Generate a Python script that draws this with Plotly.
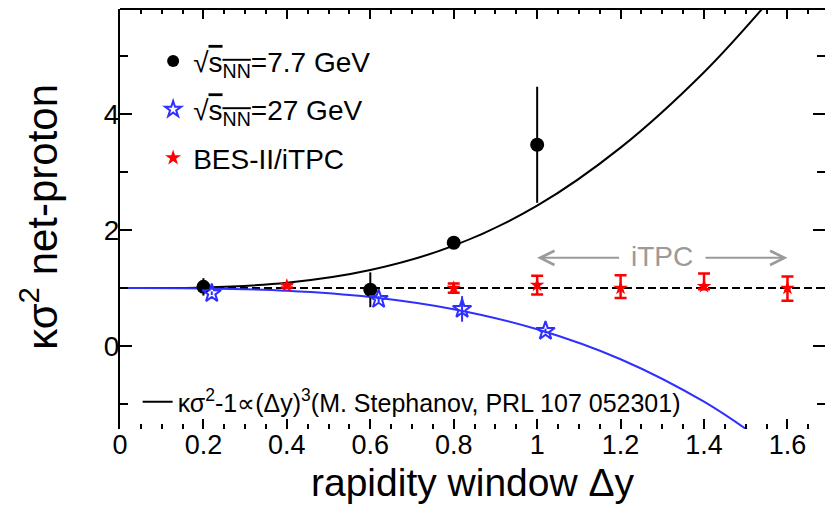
import plotly.graph_objects as go

# ---- data ----
dy_77 = [0.2, 0.6, 0.8, 1.0]
k_77 = [1.02, 0.97, 1.78, 3.47]
e_77 = [0.15, 0.30, 0.06, 1.0]

dy_27 = [0.22, 0.62, 0.82, 1.02]
k_27 = [0.91, 0.81, 0.64, 0.26]
e_27 = [0.03, 0.05, 0.22, 0.04]

dy_bes = [0.4, 0.8, 1.0, 1.2, 1.4, 1.6]
k_bes = [1.04, 1.0, 1.05, 1.0, 1.03, 1.0]
ep_bes = [0.03, 0.08, 0.16, 0.22, 0.22, 0.2]
em_bes = [0.03, 0.08, 0.16, 0.17, 0.05, 0.22]

# model curves
curve_x = [0.0, 0.2, 0.4, 0.6, 0.8, 1.0, 1.2, 1.4, 1.55]
curve_77 = [1.0, 1.01, 1.09, 1.31, 1.73, 2.42, 3.42, 4.72, 5.9]
curve_27 = [1.0, 0.994, 0.955, 0.847, 0.636, 0.29, -0.227, -0.96, -1.68]

x_ticks = [0, 0.2, 0.4, 0.6, 0.8, 1, 1.2, 1.4, 1.6]
x_ticktext = ["0", "0.2", "0.4", "0.6", "0.8", "1", "1.2", "1.4", "1.6"]
y_ticks = [0, 2, 4]

x_title = "rapidity window Δy"
y_title = "κσ<sup>2</sup> net-proton"

FONT = "Liberation Sans, Arial, Helvetica, sans-serif"
BLUE = "#2f2fff"
RED = "#ff0000"
GRAY = "#9a9a9a"

sqrt_s = "√<span style='text-decoration:overline'>s<sub>NN</sub></span>"

fig = go.Figure()

# reference line
fig.add_hline(y=1, line=dict(color="black", width=2, dash="8px,4px"), layer="below")

fig.add_trace(go.Scatter(x=curve_x, y=curve_77, mode="lines", line=dict(color="black", width=2, shape="spline"),
                         name="κσ<sup>2</sup>-1∝(Δy)<sup>3</sup>(M. Stephanov, PRL 107 052301)",
                         legend="legend2"))
fig.add_trace(go.Scatter(x=curve_x, y=curve_27, mode="lines", line=dict(color=BLUE, width=2, shape="spline"),
                         showlegend=False))

fig.add_trace(go.Scatter(x=dy_77, y=k_77, mode="markers", name=sqrt_s + "=7.7 GeV", legendgroup="a",
                         marker=dict(symbol="circle", size=14, color="black"),
                         error_y=dict(type="data", array=e_77, color="black", thickness=2, width=0)))
fig.add_trace(go.Scatter(x=dy_27, y=k_27, mode="markers", name=sqrt_s + "=27 GeV", legendgroup="b",
                         marker=dict(symbol="star-open", size=14, color=BLUE, line=dict(width=2, color=BLUE)),
                         error_y=dict(type="data", array=e_27, color=BLUE, thickness=2, width=0)))
fig.add_trace(go.Scatter(x=dy_bes, y=k_bes, mode="markers", name="BES-II/iTPC", legendgroup="c",
                         marker=dict(symbol="star", size=11, color=RED),
                         error_y=dict(type="data", symmetric=False, array=ep_bes, arrayminus=em_bes,
                                      color=RED, thickness=2.5, width=6)))

# iTPC label and arrows
fig.add_annotation(x=1.3, y=1.55, text="iTPC", showarrow=False, font=dict(size=28, color=GRAY, family=FONT))
fig.add_annotation(x=1.0, y=1.52, ax=1.2, ay=1.52, axref="x", ayref="y", xref="x", yref="y", text="",
                   showarrow=True, arrowhead=5, arrowsize=1.4, arrowwidth=2, arrowcolor=GRAY)
fig.add_annotation(x=1.6, y=1.52, ax=1.4, ay=1.52, axref="x", ayref="y", xref="x", yref="y", text="",
                   showarrow=True, arrowhead=5, arrowsize=1.4, arrowwidth=2, arrowcolor=GRAY)

# axis titles
fig.add_annotation(x=0.5, y=-0.128, xref="paper", yref="paper", text=x_title, showarrow=False,
                   xanchor="center", yanchor="middle", font=dict(size=39, family=FONT, color="black"))
fig.add_annotation(x=-0.115, y=0.505, xref="paper", yref="paper", text=y_title, showarrow=False,
                   textangle=-90, xanchor="center", yanchor="middle",
                   font=dict(size=42, family=FONT, color="black"))

# top frame line (bottom axis line is absent in the reference)
fig.add_shape(type="line", xref="paper", yref="paper", x0=0, x1=1, y0=1, y1=1, line=dict(color="black", width=2))

fig.update_layout(
    width=833, height=512,
    margin=dict(l=112, r=16, t=1, b=91),
    paper_bgcolor="white", plot_bgcolor="white",
    font=dict(family=FONT, color="black"),
    showlegend=True,
    legend=dict(x=0.047, y=0.935, xanchor="left", yanchor="top", bgcolor="rgba(0,0,0,0)",
                font=dict(size=28, family=FONT), tracegroupgap=9, itemsizing="constant"),
    legend2=dict(x=0.025, y=0.064, xanchor="left", yanchor="middle", bgcolor="rgba(0,0,0,0)",
                 font=dict(size=25, family=FONT)),
    xaxis=dict(range=[0, 1.69], tickvals=x_ticks, ticktext=x_ticktext, ticks="inside", ticklen=10,
               tickwidth=2, tickcolor="black", showline=False, mirror="ticks", showgrid=False, zeroline=False,
               automargin=False, ticklabelstandoff=-3,
               tickfont=dict(size=27), minor=dict(dtick=0.05, tick0=0, ticks="inside", ticklen=5, tickwidth=2,
                                                  tickcolor="black", showgrid=False)),
    yaxis=dict(range=[-1.43, 5.81], tickvals=y_ticks, ticks="inside", ticklen=12, tickwidth=2,
               tickcolor="black", showline=True, linecolor="black", linewidth=2, mirror="ticks",
               showgrid=False, zeroline=False, tickfont=dict(size=28), automargin=False,
               ticklabelstandoff=-7,
               minor=dict(dtick=1, tick0=0, ticks="inside", ticklen=8, tickwidth=2, tickcolor="black", showgrid=False)),
)

fig.write_html("out.html")
